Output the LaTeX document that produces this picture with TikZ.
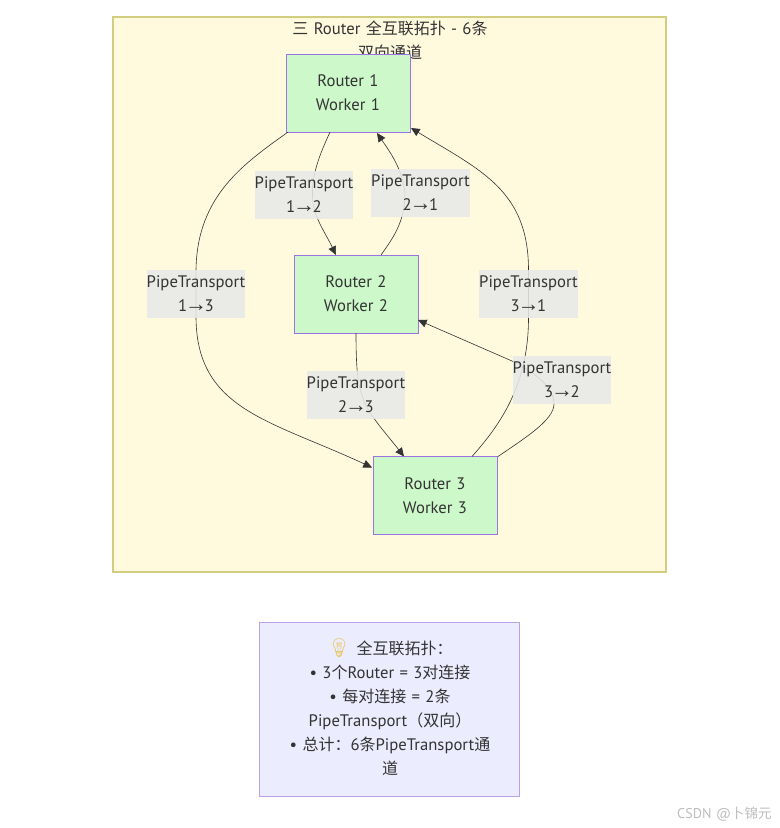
\documentclass[tikz,border=0pt]{standalone}
\usepackage{fontspec}
\setmainfont{PT Sans}[WordSpace=1.2]
\newfontfamily\cjk{Noto Sans CJK SC}[Scale=0.96]
\newfontfamily\emojifont{Noto Emoji}
\newfontfamily\arrfont{Liberation Sans}[Scale=1.32]
\newcommand{\arr}{\kern-1.7pt{\arrfont →}\kern-1.7pt}
\newcommand{\zh}[1]{{\cjk #1}}
\usetikzlibrary{arrows.meta,calc}
\pgfdeclarelayer{lab}
\pgfsetlayers{main,lab}
\definecolor{clusterfill}{HTML}{FFF9DE}
\definecolor{clusterline}{HTML}{D3CD80}
\definecolor{routerfill}{HTML}{CDF8C9}
\definecolor{purpleline}{HTML}{9A74E0}
\definecolor{notefill}{HTML}{ECECFF}
\definecolor{noteline}{HTML}{B9A2E8}
\definecolor{labelfill}{HTML}{E8E8E8}
\definecolor{ink}{HTML}{333333}
\definecolor{mark}{HTML}{BDBDBD}
\definecolor{bulb}{HTML}{E8C65A}
\tikzset{
  x=0.75pt,y=-0.75pt,
  every node/.style={font=\fontsize{12.5pt}{18pt}\selectfont,text=ink,align=center,inner sep=0pt,outer sep=0pt},
  router/.style={draw=purpleline,fill=routerfill,line width=0.6pt,minimum width=93pt,minimum height=58.5pt},
  pipelabel/.style={fill=labelfill,fill opacity=0.88,text opacity=1,minimum width=73.5pt,minimum height=36pt},
  edge/.style={draw=ink,line width=0.45pt,-{Triangle[length=6.5pt,width=6pt]}},
}
\begin{document}
\begin{tikzpicture}
\useasboundingbox (0,0) rectangle (780,828);
\fill[white] (0,0) rectangle (780,828);
\node[draw=clusterline,fill=clusterfill,line width=1pt,minimum width=414.75pt,minimum height=416.25pt] (cluster) at (389.5,294.5) {};
\node (title) at (390,40) {\zh{三} Router \zh{全互联拓扑} - 6\zh{条}\\\zh{双向通道}};
\node[router] (r1) at (348,93) {Router 1\\Worker 1};
\node[router] (r2) at (356,294) {Router 2\\Worker 2};
\node[router] (r3) at (435,495.5) {Router 3\\Worker 3};
\begin{pgfonlayer}{lab}
\node[pipelabel] (l12) at (304,195) {PipeTransport\\1\arr2};
\node[pipelabel] (l21) at (420.5,193) {PipeTransport\\2\arr1};
\node[pipelabel] (l13) at (196,294) {PipeTransport\\1\arr3};
\node[pipelabel] (l31) at (528.5,294) {PipeTransport\\3\arr1};
\node[pipelabel] (l23) at (356,395) {PipeTransport\\2\arr3};
\node[pipelabel] (l32) at (562,380) {PipeTransport\\3\arr2};
\end{pgfonlayer}
\draw[edge] (r1.south west) ++(2,0) .. controls (245,163) and (197,195) .. (l13.north) -- (l13.south)
  .. controls (197,410) and (270,420) .. ($(r3.north west)+(-1,11)$);
\draw[edge] ($(r1.south)+(-18,0)$) .. controls (321,152) and (312,172) .. (312.5,195)
  .. controls (312,215) and (325,232) .. ($(r2.north)+(-20,0)$);
\draw[edge] ($(r2.north)+(25,0)$) .. controls (393,238) and (405,222) .. (405,193)
  .. controls (402,168) and (390,152) .. ($(r1.south)+(29,1)$);
\draw[edge] ($(r3.north)+(37,0)$) .. controls (500,425) and (528.5,385) .. (l31.south) -- (l31.north)
  .. controls (528.5,190) and (480,170) .. ($(r1.south east)+(1,-4)$);
\draw[edge] (r2.south) .. controls (356,370) and (358,385) .. (362,395)
  .. controls (366,412) and (385,432) .. ($(r3.north)+(-31,0)$);
\draw[edge] (r3.north east) ++(1,0) .. controls (525,438) and (554,420) .. (554,404)
  .. controls (554,385) and (530,370) .. (512,361) -- ($(r2.east)+(0,26)$);
\node[draw=noteline,fill=notefill,line width=0.7pt,minimum width=195pt,minimum height=130.5pt] (note) at (389.5,709) {};
\node (notetext) at (390,707) {{\emojifont\fontsize{14pt}{18pt}\selectfont\color{bulb}\symbol{"1F4A1}} \zh{全互联拓扑：}\\
• 3\zh{个}Router = 3\zh{对连接}\\
• \zh{每对连接} = 2\zh{条}\\
PipeTransport\zh{（双向）}\\
• \zh{总计：}6\zh{条}PipeTransport\zh{通}\\
\zh{道}};
\node[font=\fontsize{10.6pt}{12pt}\selectfont,text=mark] (wm) at (724.5,814) {CSDN @\zh{卜锦元}};
\end{tikzpicture}
\end{document}
